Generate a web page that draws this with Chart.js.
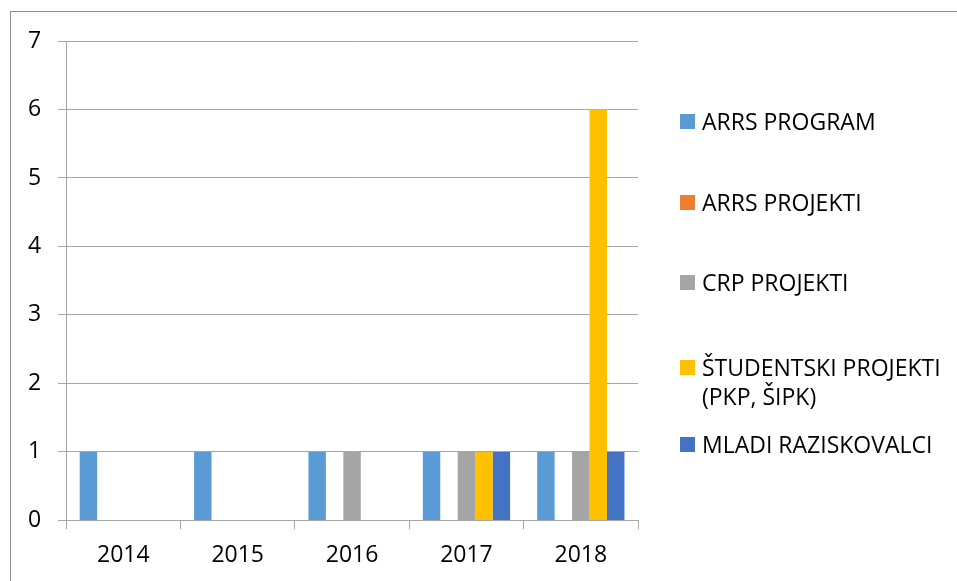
<!DOCTYPE html>
<html>
<head>
    <script src="https://cdn.jsdelivr.net/npm/chart.js@4.4.0/dist/chart.umd.min.js"></script>
    <title>Projekti po letih</title>
    <style>
        body { margin: 0; background: #fff; }
        #wrap { position: relative; width: 957px; height: 581px; overflow: hidden; }
        #frame { position: absolute; left: 10px; top: 11px; width: 960px; height: 600px;
                 border-top: 1px solid #8c8c8c; border-left: 1px solid #8c8c8c; }
        #graph-area { position: absolute; left: 0; top: 0; width: 957px; height: 581px; }
        #legend { position: absolute; left: 680px; top: 0; font-family: "Open Sans", sans-serif;
                  font-size: 23px; color: #000; }
        .item { position: absolute; left: 0; white-space: nowrap; line-height: 29px; }
        .box { position: absolute; left: 0; top: 7px; width: 15px; height: 15px; }
        .txt { position: absolute; left: 22px; top: 0; }
    </style>
</head>
<body>
<div id="wrap">
    <div id="frame"></div>
    <div id="graph-area"><canvas id="myChart"></canvas></div>
    <div id="legend"></div>
</div>

<script>
    // data
    var years = ['2014', '2015', '2016', '2017', '2018'];
    var seriesNames = ['ARRS PROGRAM', 'ARRS PROJEKTI', 'CRP PROJEKTI', 'ŠTUDENTSKI PROJEKTI\n(PKP, ŠIPK)', 'MLADI RAZISKOVALCI'];
    var arrsProgram = [1, 1, 1, 1, 1];
    var arrsProjekti = [0, 0, 0, 0, 0];
    var crpProjekti = [0, 0, 1, 1, 1];
    var studentski = [0, 0, 0, 1, 6];
    var mladi = [0, 0, 0, 1, 1];
    var colors = ['#5B9BD5', '#ED7D31', '#A5A5A5', '#FFC000', '#4472C4'];

    var values = [arrsProgram, arrsProjekti, crpProjekti, studentski, mladi];
    var datasets = [];
    for (let i = 0; i < values.length; i++) {
        datasets.push({
            label: seriesNames[i],
            data: values[i],
            backgroundColor: colors[i],
            borderWidth: 0,
            categoryPercentage: 0.763,
            barPercentage: 1.0
        });
    }

    // html legend, one row per series
    var legendTops = [107, 188, 268, 353, 430];
    var legend = document.getElementById('legend');
    for (let i = 0; i < seriesNames.length; i++) {
        var item = document.createElement('div');
        item.className = 'item';
        item.style.top = legendTops[i] + 'px';
        var box = document.createElement('div');
        box.className = 'box';
        box.style.background = colors[i];
        var txt = document.createElement('div');
        txt.className = 'txt';
        txt.innerHTML = seriesNames[i].split('\n').join('<br>');
        item.appendChild(box);
        item.appendChild(txt);
        legend.appendChild(item);
    }

    var gridColor = '#a6a6a6';
    var ctx = document.getElementById('myChart').getContext('2d');
    var myChart = new Chart(ctx, {
        type: 'bar',
        data: {
            labels: years,
            datasets: datasets
        },
        options: {
            responsive: true,
            maintainAspectRatio: false,
            animation: false,
            layout: {
                padding: { left: 11, right: 319, top: 41, bottom: 0 }
            },
            scales: {
                x: {
                    grid: {
                        offset: true,
                        drawOnChartArea: false,
                        drawTicks: true,
                        tickLength: 9,
                        color: gridColor
                    },
                    border: { color: gridColor },
                    ticks: {
                        color: '#000',
                        padding: 12,
                        font: { family: 'Open Sans', size: 23 }
                    }
                },
                y: {
                    min: 0,
                    max: 7,
                    grid: {
                        color: gridColor,
                        tickLength: 8
                    },
                    border: { color: gridColor },
                    ticks: {
                        stepSize: 1,
                        color: '#000',
                        padding: 17,
                        font: { family: 'Open Sans', size: 23 }
                    }
                }
            },
            plugins: {
                legend: { display: false },
                tooltip: { enabled: false }
            }
        }
    });
</script>
</body>
</html>
